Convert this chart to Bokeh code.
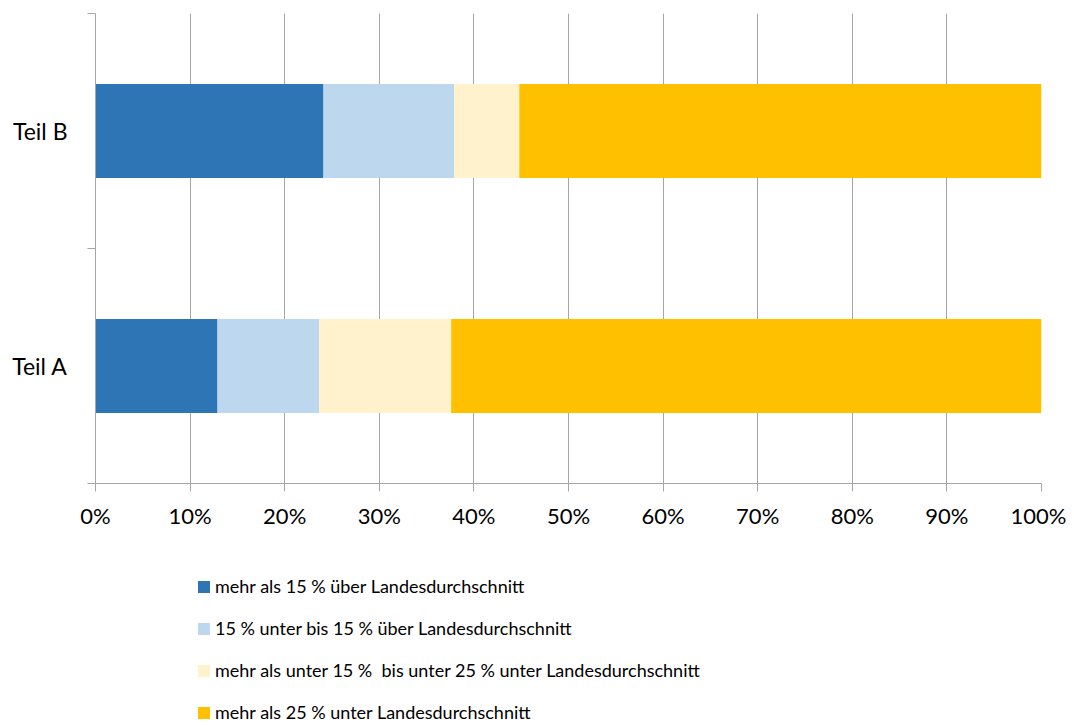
from bokeh.plotting import figure
from bokeh.layouts import column
from bokeh.models import FixedTicker, Range1d, Legend, LegendItem, ColumnDataSource
from bokeh.embed import file_html
from bokeh.resources import INLINE

categories = ["Teil A", "Teil B"]
series_labels = [
    "mehr als 15 % über Landesdurchschnitt",
    "15 % unter bis 15 % über Landesdurchschnitt",
    "mehr als unter 15 %  bis unter 25 % unter Landesdurchschnitt",
    "mehr als 25 % unter Landesdurchschnitt",
]
s_above15 = [12.9, 24.1]
s_within15 = [10.75, 13.8]
s_15to25 = [13.95, 6.9]
s_below25 = [62.4, 55.2]
x_ticks = [0, 10, 20, 30, 40, 50, 60, 70, 80, 90, 100]
x_tick_labels = [f"{t}%" for t in x_ticks]
colors = ["#2E75B6", "#BDD7EE", "#FFF2CC", "#FFC000"]

FONT = "Lato"
GRID = "#A6A6A6"

ypos = [i + 0.5 for i in range(len(categories))]
source = ColumnDataSource(dict(y=ypos, a=s_above15, b=s_within15, c=s_15to25, d=s_below25))

p = figure(frame_width=946, frame_height=470,
           x_range=Range1d(0, 100), y_range=Range1d(0, len(categories)),
           output_backend="svg", toolbar_location=None,
           min_border_left=95, min_border_right=25, min_border_top=13, min_border_bottom=0)
p.outline_line_color = None
p.background_fill_color = "white"

renderers = p.hbar_stack(["a", "b", "c", "d"], y="y", height=0.4, color=colors,
                         source=source, line_color=None)

# x axis
xa = p.xaxis[0]
xa.ticker = FixedTicker(ticks=x_ticks, minor_ticks=[])
xa.major_label_overrides = {t: l for t, l in zip(x_ticks, x_tick_labels)}
xa.axis_line_color = GRID
xa.major_tick_line_color = GRID
xa.major_tick_out = 8
xa.major_tick_in = 0
xa.minor_tick_line_color = None
xa.major_label_text_font = FONT
xa.major_label_text_font_size = "22px"
xa.major_label_text_color = "black"
xa.major_label_standoff = 10

# y axis
ya = p.yaxis[0]
ya.ticker = FixedTicker(ticks=ypos, minor_ticks=[float(i) for i in range(len(categories) + 1)])
ya.major_label_overrides = {y: c for y, c in zip(ypos, categories)}
ya.axis_line_color = GRID
ya.major_tick_line_color = None
ya.major_tick_out = 0
ya.major_tick_in = 0
ya.minor_tick_line_color = GRID
ya.minor_tick_out = 8
ya.minor_tick_in = 0
ya.major_label_text_font = FONT
ya.major_label_text_font_size = "23px"
ya.major_label_text_color = "black"
ya.major_label_standoff = 20

p.xgrid.grid_line_color = GRID
p.xgrid.ticker = FixedTicker(ticks=x_ticks)
p.ygrid.grid_line_color = None

# legend panel below the chart (same series, drawn outside its visible range)
lf = figure(width=1066, height=196, x_range=Range1d(0, 100), y_range=Range1d(100, 101),
            output_backend="svg", toolbar_location=None, min_border=0)
lf.axis.visible = False
lf.grid.grid_line_color = None
lf.outline_line_color = None
swatches = lf.hbar_stack(["a", "b", "c", "d"], y="y", height=0.4, color=colors,
                         source=source, line_color=None)

items = [LegendItem(label=l, renderers=[r]) for l, r in zip(series_labels, swatches)]
legend = Legend(items=items, location=(101, 3), orientation="vertical",
                glyph_width=15, glyph_height=15, label_standoff=4,
                label_text_font=FONT, label_text_font_size="18px", label_text_color="black",
                label_height=24, spacing=18, padding=0, margin=0,
                border_line_color=None, background_fill_alpha=0)
lf.add_layout(legend, "center")

layout = column(p, lf)
open("out.html", "w").write(file_html(layout, INLINE))
